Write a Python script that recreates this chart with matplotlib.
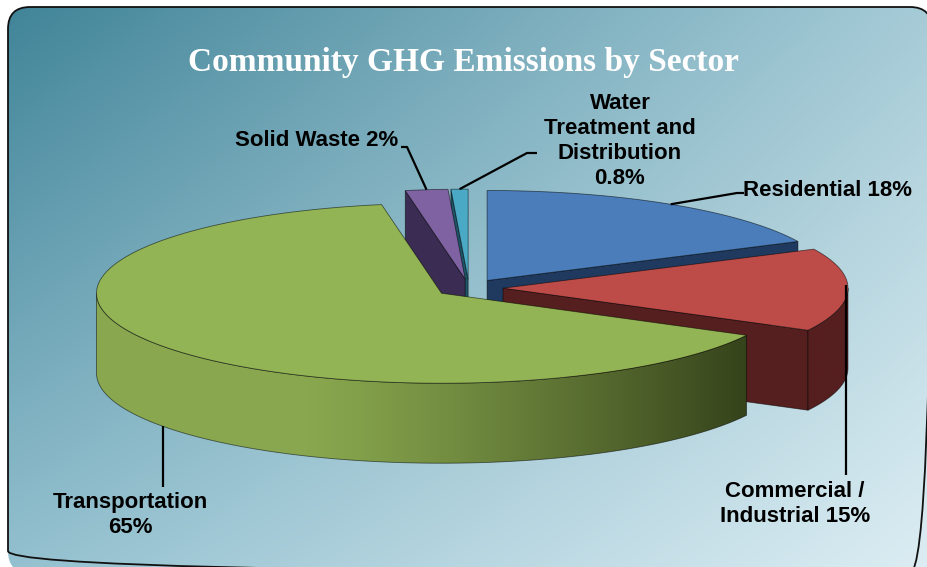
import numpy as np
import matplotlib
matplotlib.use("Agg")
from matplotlib import pyplot as plt
from matplotlib.patches import Polygon, FancyBboxPatch

# sector shares (percent), clockwise from 12 o'clock
sectors = ["Residential", "Commercial / Industrial", "Transportation",
           "Solid Waste", "Water Treatment and Distribution"]
shares = [18, 15, 65, 2, 0.8]
label_fmt = ["Residential {}%", "Commercial /\nIndustrial {}%", "Transportation\n{}%",
             "Solid Waste {}%", "Water\nTreatment and\nDistribution\n{}%"]
top_colors = ["#4a7dba", "#bd4b48", "#93b454", "#7f62a1", "#4aaac5"]
side_colors = ["#1f3a5e", "#561f1f", "#34411a", "#3a2c52", "#1d5566"]

W, H = 928, 567
CX, CY = 469, 288       # pie centre (pixels)
RX, RY = 345, 90        # ellipse radii of the top face
DEPTH = 80
EXPLODE = 34


def rgb(c):
    return np.array(matplotlib.colors.to_rgb(c))


def rim(cx, cy, th, dz=0.0):
    t = np.radians(th)
    return cx + RX * np.sin(t), cy - RY * np.cos(t) + dz


fig = plt.figure(figsize=(W / 100, H / 100), dpi=100)
ax = fig.add_axes([0, 0, 1, 1])
ax.set_xlim(0, W)
ax.set_ylim(H, 0)
ax.axis("off")

# background panel with diagonal gradient
box = FancyBboxPatch((8, 7), W + 4 - 8, H + 6 - 7, boxstyle="round,pad=0,rounding_size=22",
                     facecolor="none", edgecolor="#111111", lw=1.3, zorder=1)
ax.add_patch(box)
tl, tr = rgb("#3f8397"), rgb("#a5cbd7")
bl, br = rgb("#93c0cf"), rgb("#dcedf3")
u = np.linspace(0, 1, W)[None, :, None]
v = np.linspace(0, 1, H)[:, None, None]
grad = (1 - u) * (1 - v) * tl + u * (1 - v) * tr + (1 - u) * v * bl + u * v * br
img = ax.imshow(grad, extent=(0, W, H, 0), zorder=0, interpolation="bilinear")
img.set_clip_path(box)

# slice angles
frac = np.array(shares) / np.sum(shares) * 360
ends = np.cumsum(frac)
starts = ends - frac
mids = (starts + ends) / 2

centres = []
for m in mids:
    t = np.radians(m)
    centres.append((CX + EXPLODE * np.sin(t), CY - EXPLODE * np.cos(t) * RY / RX))

edge = (0, 0, 0, 0.55)

# side walls, back slices first
for i in sorted(range(len(shares)), key=lambda k: -np.cos(np.radians(mids[k]))):
    cx, cy = centres[i]
    a0, a1 = starts[i], ends[i]
    dark = rgb(side_colors[i])
    light = rgb(top_colors[i]) * 0.93
    # radial faces
    for a, vis in ((a1, np.sin(np.radians(a1)) > 1e-3), (a0, np.sin(np.radians(a0)) < -1e-3)):
        if vis:
            px, py = rim(cx, cy, a)
            ax.add_patch(Polygon([(cx, cy), (px, py), (px, py + DEPTH), (cx, cy + DEPTH)],
                                 closed=True, facecolor=dark, edgecolor=edge, lw=0.6, zorder=2))
    # curved outer wall (front half only), shaded left to right
    w0, w1 = max(a0, 90), min(a1, 270)
    if w1 > w0:
        th = np.linspace(w0, w1, int((w1 - w0) * 2) + 2)
        top = [rim(cx, cy, t) for t in th]
        bot = [rim(cx, cy, t, DEPTH) for t in th[::-1]]
        wall = Polygon(top + bot, closed=True, facecolor="none",
                       edgecolor=edge, lw=0.6, zorder=2.5)
        ax.add_patch(wall)
        xs = np.array([p[0] for p in top])
        x_lo, x_hi = xs.min() - 2, xs.max() + 2
        y_lo = min(p[1] for p in top) - 2
        y_hi = max(p[1] for p in bot) + 2
        gx = np.linspace(x_lo, x_hi, 400)
        s = np.clip((gx - cx) / RX, -1, 1)
        w = np.clip((s + 0.4) / 1.3, 0, 1) ** 1.2
        shade = (1 - w)[:, None] * light + w[:, None] * dark
        wimg = ax.imshow(shade[None, :, :], extent=(x_lo, x_hi, y_hi, y_lo),
                         zorder=2, interpolation="bilinear", aspect="auto")
        wimg.set_clip_path(wall)

# top faces
for i in range(len(shares)):
    cx, cy = centres[i]
    th = np.linspace(starts[i], ends[i], max(int(frac[i] * 2), 4))
    pts = [(cx, cy)] + [rim(cx, cy, t) for t in th]
    ax.add_patch(Polygon(pts, closed=True, facecolor=top_colors[i],
                         edgecolor=edge, lw=0.6, zorder=3))

# labels with leader lines
anchors = []
for i in range(len(shares)):
    cx, cy = centres[i]
    px, py = rim(cx, cy, mids[i])
    if np.cos(np.radians(mids[i])) < -0.1:
        py += DEPTH
    anchors.append((px, py))

leaders = [
    [anchors[0], (737, 193), (744, 193)],
    [(anchors[1][0] - 2, anchors[1][1] - 5), (anchors[1][0] - 2, 475)],
    [anchors[2], (anchors[2][0], 487)],
    [anchors[3], (407, 147), (401, 147)],
    [anchors[4], (527, 153), (537, 153)],
]
for pts in leaders:
    xs, ys = zip(*pts)
    ax.plot(xs, ys, color="black", lw=1.6, zorder=4, solid_capstyle="butt")

lab_kw = dict(fontsize=16, fontweight="bold", family="Liberation Sans",
              color="black", zorder=5, linespacing=1.25)
text_pos = [(743, 190, "left"), (795, 504, "center"), (130, 515, "center"),
            (398, 140, "right"), (620, 141, "center")]
for i, (x, y, ha) in enumerate(text_pos):
    ax.text(x, y, label_fmt[i].format(f"{shares[i]:g}"), ha=ha, va="center",
            multialignment="center", **lab_kw)

ax.text(463, 63, "Community GHG Emissions by Sector", ha="center", va="center",
        color="white", fontsize=24, fontweight="bold", family="Liberation Serif", zorder=5)

fig.savefig("out.png", dpi=100)
